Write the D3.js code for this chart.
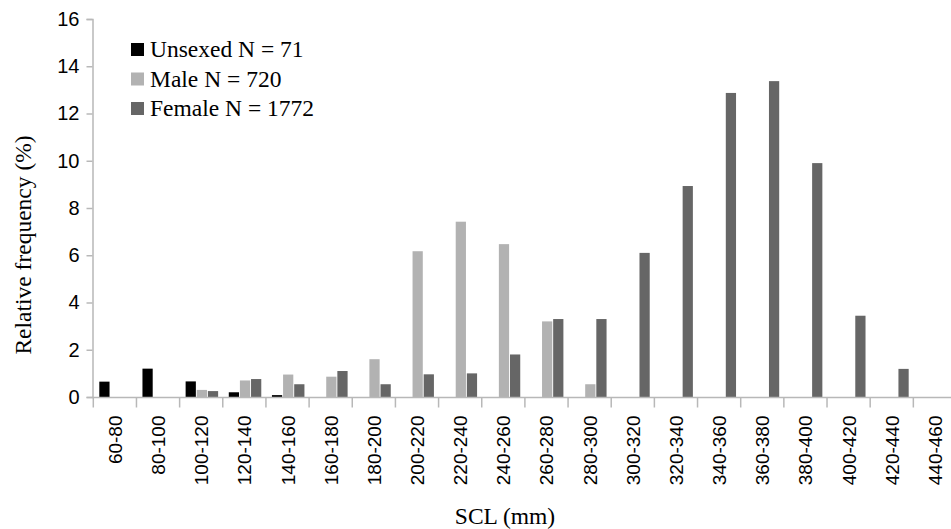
<!DOCTYPE html>
<html>
<head>
<meta charset="utf-8">
<script src="https://cdnjs.cloudflare.com/ajax/libs/d3/7.8.5/d3.min.js"></script>
<style>
  body { margin: 0; background: #fff; }
  svg { display: block; }
</style>
</head>
<body>
<div id="chart"></div>
<script>
const categories = ["60-80", "80-100", "100-120", "120-140", "140-160", "160-180", "180-200",
  "200-220", "220-240", "240-260", "260-280", "280-300", "300-320", "320-340", "340-360",
  "360-380", "380-400", "400-420", "420-440", "440-460"];

const seriesNames = ["Unsexed N = 71", "Male N = 720", "Female N = 1772"];
const seriesColors = ["#000000", "#b2b2b2", "#666666"];

const unsexed = [0.65, 1.2, 0.66, 0.2, 0.08, 0, 0, 0, 0, 0, 0, 0, 0, 0, 0, 0, 0, 0, 0, 0];
const male    = [0, 0, 0.3, 0.7, 0.95, 0.86, 1.6, 6.17, 7.42, 6.47, 3.2, 0.54, 0, 0, 0, 0, 0, 0, 0, 0];
const female  = [0, 0, 0.25, 0.76, 0.54, 1.1, 0.54, 0.96, 1.0, 1.8, 3.3, 3.3, 6.1, 8.93, 12.87, 13.37, 9.9, 3.44, 1.19, 0];

const yTicks = [0, 2, 4, 6, 8, 10, 12, 14, 16];

const width = 951, height = 529;
const serif = "'Liberation Serif', 'Times New Roman', serif";
const sans = "'Liberation Sans', Arial, sans-serif";

const svg = d3.select("#chart").append("svg")
    .attr("width", width)
    .attr("height", height);

const x0 = d3.scaleBand()
    .domain(categories)
    .range([93.3, 93.3 + 20 * 43.16])
    .padding(0);

const x1 = d3.scaleBand()
    .domain(seriesNames)
    .range([6, 38.5])
    .paddingInner(0.08);

const y = d3.scaleLinear()
    .domain([0, 16])
    .range([397, 19]);

const axisColor = "#b8b8b8";

// bars
const seriesData = [unsexed, male, female];
categories.forEach((c, i) => {
  const g = svg.append("g").attr("transform", `translate(${x0(c)},0)`);
  seriesData.forEach((s, j) => {
    if (s[i] <= 0) return;
    g.append("rect")
      .attr("x", x1(seriesNames[j]))
      .attr("y", y(s[i]))
      .attr("width", x1.bandwidth())
      .attr("height", y(0) - y(s[i]))
      .attr("fill", seriesColors[j]);
  });
});

// y axis
const yAxis = svg.append("g")
    .attr("transform", "translate(92.5,0)")
    .call(d3.axisLeft(y).tickValues(yTicks).tickSize(6).tickPadding(7));
yAxis.select(".domain").attr("stroke", axisColor).attr("stroke-width", 1.5);
yAxis.selectAll(".tick line").attr("stroke", axisColor).attr("stroke-width", 1.5);
yAxis.selectAll(".tick text")
    .attr("fill", "#000")
    .style("font-family", sans)
    .style("font-size", "20px");

// x axis
const xAxis = svg.append("g")
    .attr("transform", `translate(0,${y(0) + 0.5})`);
xAxis.append("line")
    .attr("x1", 92).attr("x2", width)
    .attr("stroke", axisColor).attr("stroke-width", 1.5);
xAxis.selectAll(".xtick")
    .data(categories)
    .enter().append("line")
    .attr("x1", d => x0(d)).attr("x2", d => x0(d))
    .attr("y1", 0).attr("y2", 10)
    .attr("stroke", axisColor).attr("stroke-width", 1.5);
xAxis.selectAll(".xlabel")
    .data(categories)
    .enter().append("text")
    .attr("transform", d => `translate(${x0(d) + x0.bandwidth() / 2 + 7},${18}) rotate(-90)`)
    .attr("text-anchor", "end")
    .attr("fill", "#000")
    .style("font-family", sans)
    .style("font-size", "19px")
    .text(d => d);

// axis titles
svg.append("text")
    .attr("transform", `translate(31,245) rotate(-90)`)
    .attr("text-anchor", "middle")
    .style("font-family", serif)
    .style("font-size", "23.5px")
    .text("Relative frequency (%)");

svg.append("text")
    .attr("x", 505)
    .attr("y", 524)
    .attr("text-anchor", "middle")
    .style("font-family", serif)
    .style("font-size", "23.5px")
    .text("SCL (mm)");

// legend
const legend = svg.append("g").attr("transform", "translate(131,0)");
seriesNames.forEach((name, j) => {
  const cy = 49 + j * 29.5;
  legend.append("rect")
    .attr("x", 0).attr("y", cy - 6)
    .attr("width", 13).attr("height", 13)
    .attr("fill", seriesColors[j]);
  legend.append("text")
    .attr("x", 19).attr("y", cy + 8)
    .style("font-family", serif)
    .style("font-size", "23.5px")
    .text(name);
});
</script>
</body>
</html>
